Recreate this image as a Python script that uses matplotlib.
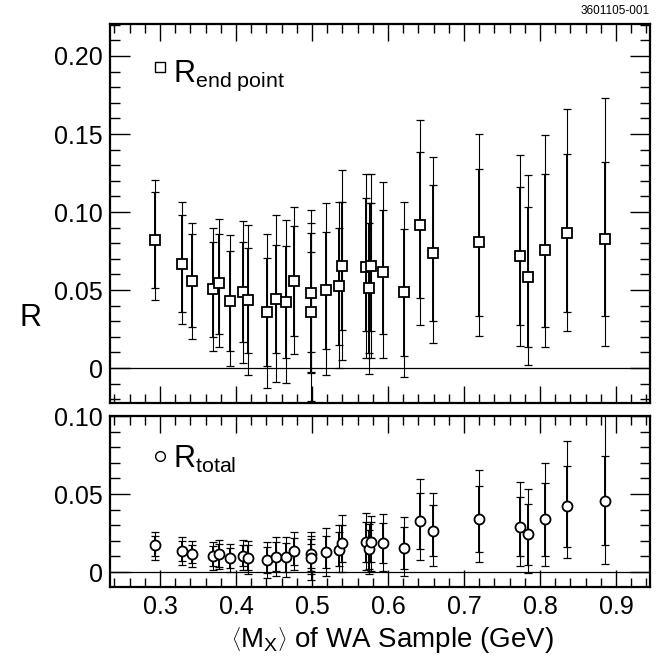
import matplotlib
matplotlib.use("Agg")
import matplotlib.pyplot as plt
from matplotlib.ticker import MultipleLocator, FixedLocator, FixedFormatter
import numpy as np

plt.rcParams['font.family'] = ['Liberation Sans', 'DejaVu Sans']
plt.rcParams['mathtext.fontset'] = 'custom'
plt.rcParams['mathtext.rm'] = 'Liberation Sans'
plt.rcParams['mathtext.it'] = 'Liberation Sans:italic'
plt.rcParams['mathtext.bf'] = 'Liberation Sans:bold'

# <M_X> of each WA sample (GeV)
mx = [0.294, 0.329, 0.3425, 0.3693, 0.3772, 0.3917, 0.4092, 0.4158, 0.4408, 0.453,
      0.4658, 0.4763, 0.4991, 0.4991, 0.5184, 0.5351, 0.5399, 0.5707, 0.5746, 0.5776,
      0.5939, 0.621, 0.6417, 0.6596, 0.7193, 0.7733, 0.7838, 0.8066, 0.836, 0.8855]

# R end point, with outer (total) and inner (statistical) errors
r_end = [0.0821, 0.0669, 0.056, 0.0504, 0.0543, 0.0432, 0.0485, 0.0434, 0.0361, 0.0442,
         0.0425, 0.0558, 0.0481, 0.0357, 0.0498, 0.0524, 0.0656, 0.0647, 0.0515, 0.0652,
         0.0615, 0.0487, 0.0915, 0.0737, 0.0808, 0.072, 0.0585, 0.0754, 0.0865, 0.0829]
r_end_out_lo = [0.0383, 0.0387, 0.0374, 0.0393, 0.0406, 0.0417, 0.0453, 0.0479, 0.0491, 0.0534,
                0.0523, 0.0468, 0.0515, 0.057, 0.0543, 0.0522, 0.0605, 0.058, 0.0553, 0.0586,
                0.0551, 0.0543, 0.0641, 0.0575, 0.0603, 0.0577, 0.0566, 0.0619, 0.063, 0.069]
r_end_out_hi = [0.0384, 0.0393, 0.0372, 0.0395, 0.041, 0.0423, 0.0455, 0.0481, 0.0496, 0.0539,
                0.0526, 0.0472, 0.0534, 0.0575, 0.0562, 0.0542, 0.0613, 0.0597, 0.0545, 0.0592,
                0.0579, 0.0579, 0.0677, 0.0618, 0.069, 0.0647, 0.0654, 0.0742, 0.0795, 0.0902]
r_end_in_lo = [0.0306, 0.031, 0.03, 0.0307, 0.0323, 0.0321, 0.032, 0.0336, 0.0346, 0.0348,
               0.0359, 0.0353, 0.0381, 0.0384, 0.0378, 0.0375, 0.041, 0.0408, 0.0419, 0.0413,
               0.0399, 0.0408, 0.0464, 0.0434, 0.0473, 0.0446, 0.0452, 0.0493, 0.0504, 0.0494]
r_end_in_hi = [0.0305, 0.031, 0.0297, 0.0306, 0.0318, 0.0318, 0.0321, 0.0333, 0.0346, 0.0344,
               0.0355, 0.035, 0.0382, 0.0387, 0.0376, 0.0375, 0.041, 0.0441, 0.0415, 0.0408,
               0.0398, 0.0406, 0.0468, 0.0434, 0.0468, 0.0442, 0.0449, 0.049, 0.0507, 0.0494]

# R total, with outer and inner errors
r_tot = [0.0171, 0.0137, 0.0115, 0.0103, 0.0113, 0.0088, 0.0105, 0.009, 0.0077, 0.0098,
         0.0098, 0.0132, 0.0118, 0.0088, 0.013, 0.0141, 0.0184, 0.0194, 0.0147, 0.0192,
         0.0186, 0.0154, 0.0329, 0.0263, 0.034, 0.029, 0.0244, 0.0338, 0.0423, 0.0457]
r_tot_out_lo = [0.0092, 0.009, 0.0085, 0.009, 0.0092, 0.0088, 0.0092, 0.0103, 0.0113, 0.0124,
                0.0128, 0.0119, 0.0133, 0.0139, 0.0155, 0.014, 0.0182, 0.018, 0.0162, 0.0183,
                0.0177, 0.0177, 0.0252, 0.0223, 0.0274, 0.025, 0.025, 0.0298, 0.0331, 0.0406]
r_tot_out_hi = [0.0088, 0.0087, 0.0082, 0.0089, 0.009, 0.0094, 0.0098, 0.0109, 0.0115, 0.0126,
                0.0126, 0.0122, 0.0141, 0.0145, 0.0154, 0.016, 0.0181, 0.0186, 0.016, 0.0167,
                0.0184, 0.0196, 0.0269, 0.0241, 0.0316, 0.0285, 0.0288, 0.0359, 0.0419, 0.06]
r_tot_in_lo = [0.0066, 0.0065, 0.0057, 0.0065, 0.0079, 0.006, 0.0067, 0.0075, 0.0085, 0.0092,
               0.0096, 0.0087, 0.009, 0.0082, 0.0106, 0.01, 0.0117, 0.0128, 0.0125, 0.0126,
               0.0126, 0.0137, 0.0179, 0.0163, 0.021, 0.019, 0.0199, 0.0233, 0.0261, 0.0284]
r_tot_in_hi = [0.0058, 0.006, 0.0056, 0.0064, 0.0066, 0.0068, 0.007, 0.0081, 0.0081, 0.0092,
               0.0088, 0.0086, 0.0091, 0.0091, 0.01, 0.0118, 0.0117, 0.0124, 0.0125, 0.0126,
               0.0126, 0.0134, 0.018, 0.0164, 0.0209, 0.0189, 0.0194, 0.0231, 0.0258, 0.0289]

x_ticks = [0.3, 0.4, 0.5, 0.6, 0.7, 0.8, 0.9]
x_ticklabels = ['0.3', '0.4', '0.5', '0.6', '0.7', '0.8', '0.9']
top_yticks = [0, 0.05, 0.10, 0.15, 0.20]
top_yticklabels = ['0', '0.05', '0.10', '0.15', '0.20']
bot_yticks = [0, 0.05, 0.10]
bot_yticklabels = ['0', '0.05', '0.10']

W, H = 662, 660
fig = plt.figure(figsize=(W / 100, H / 100), dpi=100)

def px_axes(l, t, r, b):
    return fig.add_axes([l / W, 1 - b / H, (r - l) / W, (b - t) / H])

ax1 = px_axes(110, 24, 650, 403)
ax2 = px_axes(110, 416, 650, 587)

def style(ax, yticks, ylabels, ylim):
    ax.set_xlim(0.2342, 0.9447)
    ax.set_ylim(*ylim)
    ax.xaxis.set_major_locator(FixedLocator(x_ticks))
    ax.xaxis.set_minor_locator(MultipleLocator(0.02))
    ax.yaxis.set_major_locator(FixedLocator(yticks))
    ax.yaxis.set_major_formatter(FixedFormatter(ylabels))
    ax.yaxis.set_minor_locator(MultipleLocator(0.01))
    ax.tick_params(which='both', direction='in', top=True, right=True, width=1.0, colors='black')
    ax.tick_params(axis='y', which='major', length=14.5, labelsize=18, pad=5)
    ax.tick_params(axis='y', which='minor', length=7.5)
    ax.tick_params(axis='x', which='major', length=12.5, labelsize=18, pad=6)
    ax.tick_params(axis='x', which='minor', length=6.5)
    for s in ax.spines.values():
        s.set_linewidth(1.6)
    ax.axhline(0, color='black', lw=0.9, zorder=1)

def draw(ax, y, olo, ohi, ilo, ihi, marker):
    ax.errorbar(mx, y, yerr=[olo, ohi], fmt='none', ecolor='black', elinewidth=0.8,
                capsize=3.2, capthick=0.9, zorder=2)
    ax.errorbar(mx, y, yerr=[ilo, ihi], fmt='none', ecolor='black', elinewidth=1.4,
                capsize=3.2, capthick=0.9, zorder=3)
    ax.plot(mx, y, linestyle='none', marker=marker, ms=7.2, mfc='white', mec='black',
            mew=1.3, zorder=4)

style(ax1, top_yticks, top_yticklabels, (-0.0224, 0.2205))
draw(ax1, r_end, r_end_out_lo, r_end_out_hi, r_end_in_lo, r_end_in_hi, 's')
ax1.tick_params(axis='x', labelbottom=False)

style(ax2, bot_yticks, bot_yticklabels, (-0.0096, 0.10))
draw(ax2, r_tot, r_tot_out_lo, r_tot_out_hi, r_tot_in_lo, r_tot_in_hi, 'o')
ax2.set_xticklabels(x_ticklabels)

# legends
ax1.plot([0.3], [0.193], linestyle='none', marker='s', ms=7, mfc='white', mec='black', mew=1.0)
ax1.text(0.317, 0.1835, r'R$_{\mathrm{end\ point}}$', fontsize=22, va='baseline', ha='left')
ax2.plot([0.3], [0.0744], linestyle='none', marker='o', ms=7, mfc='white', mec='black', mew=1.0)
ax2.text(0.317, 0.0665, r'R$_{\mathrm{total}}$', fontsize=22, va='baseline', ha='left')

fig.text(31 / W, 1 - 318 / H, 'R', fontsize=22, rotation=0, ha='center', va='center')
fig.text(392 / W, 1 - 647 / H,
         r'$\left\langle\mathrm{M}_{\mathrm{X}}\right\rangle$ of WA Sample (GeV)',
         fontsize=20, ha='center', va='baseline')
fig.text(650 / W, 1 - 14 / H, '3601105-001', fontsize=8.5, ha='right', va='baseline')

fig.savefig('out.png', dpi=100)
